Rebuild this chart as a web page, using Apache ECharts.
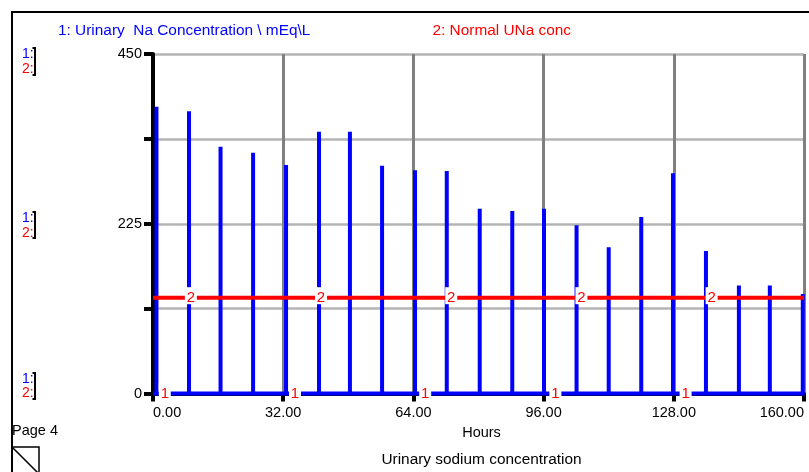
<!DOCTYPE html>
<html>
<head>
<meta charset="utf-8">
<script src="https://cdn.jsdelivr.net/npm/echarts@6/dist/echarts.min.js"></script>
<style>
html,body{margin:0;padding:0;background:#fff;}
#chart{width:809px;height:472px;}
</style>
</head>
<body>
<div id="chart"></div>
<script>
// ---- data ----
const seriesNames = ['Urinary  Na Concentration \\ mEq\\L', 'Normal UNa conc'];
// series 1: urinary Na concentration pulses (hour, mEq/L)
const pulseHours  = [0.85, 8.85, 16.6, 24.6, 32.7, 40.8, 48.4, 56.3, 64.4, 72.2, 80.3, 88.3, 96.1, 104.1, 112.0, 120.0, 127.8, 135.9, 144.0, 151.6, 159.7];
const pulseValues = [380, 374, 327, 319, 303, 347, 347, 302, 296, 295, 245, 242, 245, 223, 194, 234, 292, 189, 143, 143, 132];
const seriesStartHour = 0;
const seriesEndHour = 160;
// series 2: normal UNa concentration
const normalHours  = [0, 160];
const normalValues = [127, 127];
// curve id markers
const marker1Hours  = [2.9, 34.9, 66.9, 98.9, 130.9];
const marker1Values = [0, 0, 0, 0, 0];
const marker2Hours  = [9.3, 41.3, 73.3, 105.3, 137.3];
const marker2Values = [127, 127, 127, 127, 127];
// axes
const xMin = 0, xMax = 160, xStep = 32;
const yMin = 0, yMax = 450, yStep = 112.5;
const yLabelled = [0, 225, 450];
const xTitle = 'Hours';
const chartTitle = 'Urinary sodium concentration';
const pageLabel = 'Page 4';

// ---- build series data ----
const seriesOneData = [[seriesStartHour, 0]];
pulseHours.forEach((h, i) => {
  seriesOneData.push([h, 0], [h, pulseValues[i]], [h, 0]);
});
seriesOneData.push([seriesEndHour, 0]);
const seriesTwoData = normalHours.map((h, i) => [h, normalValues[i]]);
const marker1Data = marker1Hours.map((h, i) => [h, marker1Values[i]]);
const marker2Data = marker2Hours.map((h, i) => [h, marker2Values[i]]);

const FONT = 'Liberation Sans, Arial, Helvetica, sans-serif';
const BLUE = '#0000ff', RED = '#ff0000';

function markerSeries(data, txt) {
  return {
    type: 'scatter', data: data, z: 5, silent: true, clip: false,
    symbol: 'rect', symbolSize: [12, 17], symbolOffset: [0, -2],
    itemStyle: { color: '#ffffff', borderWidth: 0, opacity: 1 },
    label: { show: true, position: 'inside', formatter: txt, offset: [0, 2],
             color: RED, fontSize: 15, fontFamily: FONT },
    emphasis: { disabled: true }
  };
}

function bracketGroup(y1, y2, yTop, yBot) {
  return [
    { type: 'text', style: { text: '1:', x: 22, y: y1, fill: BLUE, font: '14px ' + FONT, verticalAlign: 'middle' } },
    { type: 'text', style: { text: '2:', x: 22, y: y2, fill: RED, font: '14px ' + FONT, verticalAlign: 'middle' } },
    { type: 'polyline', shape: { points: [[32.5, yTop], [35, yTop], [35, yBot], [32.5, yBot]] },
      style: { stroke: '#000', lineWidth: 2, fill: null } }
  ];
}

const chart = echarts.init(document.getElementById('chart'), null, { renderer: 'canvas' });
chart.setOption({
  animation: false,
  backgroundColor: '#ffffff',
  textStyle: { fontFamily: FONT },
  grid: { left: 153, right: 5, top: 54, bottom: 78.5, containLabel: false, outerBoundsMode: 'none' },
  legend: [
    { left: 53, top: 23, padding: 0, itemWidth: 0, itemHeight: 0, icon: 'none', selectedMode: false,
      data: [{ name: seriesNames[0], textStyle: { color: BLUE } }],
      formatter: n => '1: ' + n, textStyle: { fontSize: 15.4, fontFamily: FONT } },
    { left: 427.5, top: 23, padding: 0, itemWidth: 0, itemHeight: 0, icon: 'none', selectedMode: false,
      data: [{ name: seriesNames[1], textStyle: { color: RED } }],
      formatter: n => '2: ' + n, textStyle: { fontSize: 15.4, fontFamily: FONT } }
  ],
  xAxis: {
    type: 'value', min: xMin, max: xMax, interval: xStep,
    name: xTitle, nameLocation: 'middle', nameGap: 32,
    nameTextStyle: { color: '#000', fontSize: 14.5, fontFamily: FONT, padding: [0, 0, 0, 6] },
    axisLine: { show: true, onZero: false, lineStyle: { color: '#000', width: 4 } },
    axisTick: { show: true, length: 8, lineStyle: { color: '#000', width: 4 } },
    axisLabel: { color: '#000', fontSize: 14.5, fontFamily: FONT, margin: 12,
                 formatter: v => v.toFixed(2), showMaxLabel: true, showMinLabel: true, hideOverlap: false,
                 alignMinLabel: 'left', alignMaxLabel: 'right' },
    splitLine: { show: true, lineStyle: { color: '#808080', width: 3 } }
  },
  yAxis: {
    type: 'value', min: yMin, max: yMax, interval: yStep,
    axisLine: { show: true, onZero: false, lineStyle: { color: '#000', width: 4 } },
    axisTick: { show: true, length: 9, lineStyle: { color: '#000', width: 4 } },
    axisLabel: { color: '#000', fontSize: 14.5, fontFamily: FONT, margin: 11,
                 formatter: v => (yLabelled.indexOf(v) >= 0 ? String(v) : '') },
    splitLine: { show: true, lineStyle: { color: '#b4b4b4', width: 2.5 } }
  },
  series: [
    { name: seriesNames[0], type: 'line', data: seriesOneData, z: 2, clip: false, silent: true,
      showSymbol: false, symbol: 'none', color: BLUE,
      lineStyle: { color: BLUE, width: 4, join: 'miter', cap: 'butt' },
      emphasis: { disabled: true } },
    { name: seriesNames[1], type: 'line', data: seriesTwoData, z: 3, clip: false, silent: true,
      showSymbol: false, symbol: 'none', color: RED,
      lineStyle: { color: RED, width: 4 },
      emphasis: { disabled: true } },
    markerSeries(marker1Data, '1'),
    markerSeries(marker2Data, '2')
  ],
  graphic: [
    { type: 'polyline', shape: { points: [[12, 474], [12, 12], [812, 12]] },
      style: { stroke: '#000', lineWidth: 2, fill: null } },
    ...bracketGroup(54, 69.5, 48, 75),
    ...bracketGroup(218.5, 233, 212, 238),
    ...bracketGroup(379.5, 393.5, 373, 399),
    { type: 'text', style: { text: pageLabel, x: 12, y: 431, fill: '#000', font: '14.5px ' + FONT, verticalAlign: 'middle' } },
    { type: 'rect', shape: { x: 12, y: 447, width: 27, height: 30 },
      style: { stroke: '#000', lineWidth: 1.5, fill: null } },
    { type: 'line', shape: { x1: 12, y1: 447, x2: 39, y2: 474 },
      style: { stroke: '#000', lineWidth: 1.5 } },
    { type: 'text', style: { text: chartTitle, x: 481.5, y: 459.5, fill: '#000', font: '15.4px ' + FONT,
      align: 'center', verticalAlign: 'middle' } }
  ]
});
</script>
</body>
</html>
